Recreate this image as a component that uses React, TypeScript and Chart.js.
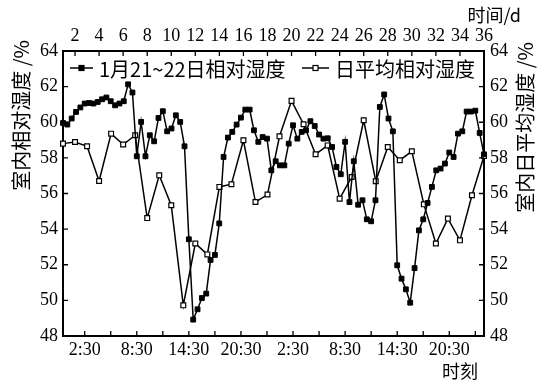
import React, { useEffect, useRef } from 'react';
import { Chart, registerables } from 'chart.js';

Chart.register(...registerables);

// ---- data ----
const hourlyLabel = '1月21~22日相对湿度';
const dailyLabel = '日平均相对湿度';

// half-hourly indoor RH, 1月21~22日 (from 0:00, every 30 min)
const hourlyRH = [
  59.96, 59.87, 60.21, 60.58, 60.83, 61.05, 61.08, 61.05, 61.14, 61.29,
  61.39, 61.18, 60.95, 61.05, 61.18, 62.13, 61.67, 58.09, 60.02, 58.09,
  59.27, 58.93, 60.24, 60.62, 59.49, 59.65, 60.39, 60.02, 58.65, 53.43,
  48.92, 49.5, 50.13, 50.38, 52.27, 52.55, 54.32, 58.05, 59.14, 59.46,
  59.87, 60.26, 60.71, 60.71, 59.55, 58.9, 59.17, 59.08, 57.3, 57.81,
  57.58, 57.58, 58.8, 59.83, 59.08, 59.46, 59.55, 60.06, 59.79, 59.31,
  59.08, 59.1, 58.61, 57.49, 57.08, 58.9, 55.52, 57.81, 55.37, 55.62,
  54.55, 54.44, 55.62, 60.86, 61.56, 60.21, 59.49, 51.97, 51.22, 50.62,
  49.87, 51.81, 53.93, 54.55, 55.47, 56.37, 57.3, 57.4, 57.68, 58.3,
  58.05, 59.36, 59.49, 60.6, 60.6, 60.65, 59.4, 58.2,
];
const halfHourStep = 0.5;

// daily mean indoor RH, days 1..36
const dailyRH = [
  58.8, 58.89, 58.65, 56.7, 59.36, 58.75, 59.27, 54.62, 57.02, 55.34,
  49.72, 53.19, 52.58, 56.37, 56.52, 58.99, 55.52, 55.94, 59.21, 61.2,
  59.89, 58.2, 58.7, 55.71, 56.93, 60.11, 56.69, 58.61, 57.87, 58.37,
  55.39, 53.19, 54.59, 53.37, 55.9, 58.1,
];
const firstDay = 1;

// ---- ticks ----
const bottomTickHours = [2.5, 5.5, 8.5, 11.5, 14.5, 17.5, 20.5, 23.5, 26.5, 29.5, 32.5, 35.5, 38.5, 41.5, 44.5, 47.5];
const bottomLabelHours = [2.5, 8.5, 14.5, 20.5, 26.5, 32.5, 38.5, 44.5];
const bottomLabels = ['2:30', '8:30', '14:30', '20:30', '2:30', '8:30', '14:30', '20:30'];
const topTickDays = [2, 4, 6, 8, 10, 12, 14, 16, 18, 20, 22, 24, 26, 28, 30, 32, 34, 36];
const yTicks = [48, 50, 52, 54, 56, 58, 60, 62, 64];

const leftTitle = '室内相对湿度 /%';
const rightTitle = '室内日平均湿度 /%';
const topTitle = '时间/d';
const bottomTitle = '时刻';

const tickFont = { family: '"Liberation Serif", "DejaVu Serif", serif', size: 18 };
const cjk = '"Noto Sans CJK SC", "Noto Sans", sans-serif';

const decorPlugin = {
  id: 'decor',
  afterDraw(chart: any) {
    const { ctx, chartArea, scales } = chart;
    ctx.save();
    ctx.strokeStyle = '#000';
    ctx.lineWidth = 1.3;
    const tl = 5;
    // inward ticks
    ctx.beginPath();
    scales.x.ticks.forEach((t: any) => {
      const px = scales.x.getPixelForValue(t.value);
      ctx.moveTo(px, chartArea.bottom);
      ctx.lineTo(px, chartArea.bottom - tl);
    });
    scales.x2.ticks.forEach((t: any) => {
      const px = scales.x2.getPixelForValue(t.value);
      ctx.moveTo(px, chartArea.top);
      ctx.lineTo(px, chartArea.top + tl);
    });
    scales.y.ticks.forEach((t: any) => {
      const py = scales.y.getPixelForValue(t.value);
      ctx.moveTo(chartArea.left, py);
      ctx.lineTo(chartArea.left + tl, py);
    });
    scales.y2.ticks.forEach((t: any) => {
      const py = scales.y2.getPixelForValue(t.value);
      ctx.moveTo(chartArea.right, py);
      ctx.lineTo(chartArea.right - tl, py);
    });
    ctx.stroke();

    ctx.fillStyle = '#000';
    // axis titles
    ctx.font = `20px ${cjk}`;
    ctx.textBaseline = 'middle';
    ctx.save();
    ctx.translate(21, 40);
    ctx.rotate(-Math.PI / 2);
    ctx.textAlign = 'right';
    ctx.fillText(leftTitle, 0, 0);
    ctx.restore();
    ctx.save();
    ctx.translate(525, 42);
    ctx.rotate(-Math.PI / 2);
    ctx.textAlign = 'right';
    ctx.fillText(rightTitle, 0, 0);
    ctx.restore();

    ctx.font = `18px ${cjk}`;
    ctx.textAlign = 'right';
    ctx.fillText(topTitle, 521, 15);
    ctx.textAlign = 'center';
    ctx.fillText(bottomTitle, 460, 371);

    // legend
    const ly = chartArea.top + 17;
    const items = [
      { x: 70, len: 23, ds: chart.data.datasets[0] },
      { x: 302, len: 27, ds: chart.data.datasets[1] },
    ];
    ctx.font = `20px ${cjk}`;
    ctx.textAlign = 'left';
    items.forEach((it) => {
      ctx.lineWidth = 1.5;
      ctx.beginPath();
      ctx.moveTo(it.x, ly);
      ctx.lineTo(it.x + it.len, ly);
      ctx.stroke();
      const cx = it.x + it.len / 2;
      ctx.fillStyle = it.ds.pointBackgroundColor;
      ctx.fillRect(cx - 2.5, ly - 2.5, 5, 5);
      ctx.lineWidth = 1.2;
      ctx.strokeRect(cx - 2.5, ly - 2.5, 5, 5);
      ctx.fillStyle = '#000';
      ctx.fillText(it.ds.label, it.x + it.len + 6, ly + 1);
    });
    ctx.restore();
  },
};

export default function App() {
  const ref = useRef<HTMLCanvasElement>(null);
  useEffect(() => {
    if (!ref.current) return;
    const chart = new Chart(ref.current, {
      type: 'line',
      data: {
        datasets: [
          {
            label: hourlyLabel,
            data: hourlyRH.map((v, i) => ({ x: i * halfHourStep, y: v })),
            xAxisID: 'x',
            yAxisID: 'y',
            borderColor: '#000',
            borderWidth: 1.5,
            pointStyle: 'rect',
            pointRadius: 3.4,
            pointBackgroundColor: '#000',
            pointBorderColor: '#000',
            pointBorderWidth: 1,
            tension: 0,
            clip: false as any,
          },
          {
            label: dailyLabel,
            data: dailyRH.map((v, i) => ({ x: i + firstDay, y: v })),
            xAxisID: 'x2',
            yAxisID: 'y2',
            borderColor: '#000',
            borderWidth: 1.5,
            pointStyle: 'rect',
            pointRadius: 3.4,
            pointBackgroundColor: '#fff',
            pointBorderColor: '#000',
            pointBorderWidth: 1.2,
            tension: 0,
            clip: false as any,
          },
        ],
      },
      options: {
        animation: false,
        responsive: false,
        layout: { padding: 0 },
        plugins: { legend: { display: false }, tooltip: { enabled: false } },
        scales: {
          x: {
            type: 'linear',
            position: 'bottom',
            min: 0,
            max: 48.5,
            afterBuildTicks: (s: any) => { s.ticks = bottomTickHours.map((v) => ({ value: v })); },
            afterFit: (s: any) => { s.height = 48; },
            ticks: {
              autoSkip: false,
              maxRotation: 0,
              padding: 3,
              color: '#000',
              font: tickFont,
              callback: (v: any) => {
                const k = bottomLabelHours.indexOf(Number(v));
                return k >= 0 ? bottomLabels[k] : '';
              },
            },
            grid: { display: false, drawTicks: false },
            border: { display: true, width: 2, color: '#000' },
          },
          x2: {
            type: 'linear',
            position: 'top',
            min: 1,
            max: 36,
            afterBuildTicks: (s: any) => { s.ticks = topTickDays.map((v) => ({ value: v })); },
            afterFit: (s: any) => { s.height = 51; },
            ticks: { autoSkip: false, maxRotation: 0, padding: 4, color: '#000', font: tickFont },
            grid: { display: false, drawTicks: false },
            border: { display: true, width: 2, color: '#000' },
          },
          y: {
            type: 'linear',
            position: 'left',
            min: 48,
            max: 64,
            afterBuildTicks: (s: any) => { s.ticks = yTicks.map((v) => ({ value: v })); },
            afterFit: (s: any) => { s.width = 63; },
            ticks: { padding: 5, color: '#000', font: tickFont },
            grid: { display: false, drawTicks: false },
            border: { display: true, width: 2, color: '#000' },
          },
          y2: {
            type: 'linear',
            position: 'right',
            min: 48,
            max: 64,
            afterBuildTicks: (s: any) => { s.ticks = yTicks.map((v) => ({ value: v })); },
            afterFit: (s: any) => { s.width = 64; },
            ticks: { padding: 6, color: '#000', font: tickFont },
            grid: { display: false, drawTicks: false },
            border: { display: true, width: 2, color: '#000' },
          },
        },
      },
      plugins: [decorPlugin],
    } as any);
    return () => chart.destroy();
  }, []);
  return (
    <div style={{ position: 'absolute', left: 0, top: 0, width: 548, height: 384, background: '#fff' }}>
      <canvas ref={ref} width={548} height={384} style={{ display: 'block' }} />
    </div>
  );
}
